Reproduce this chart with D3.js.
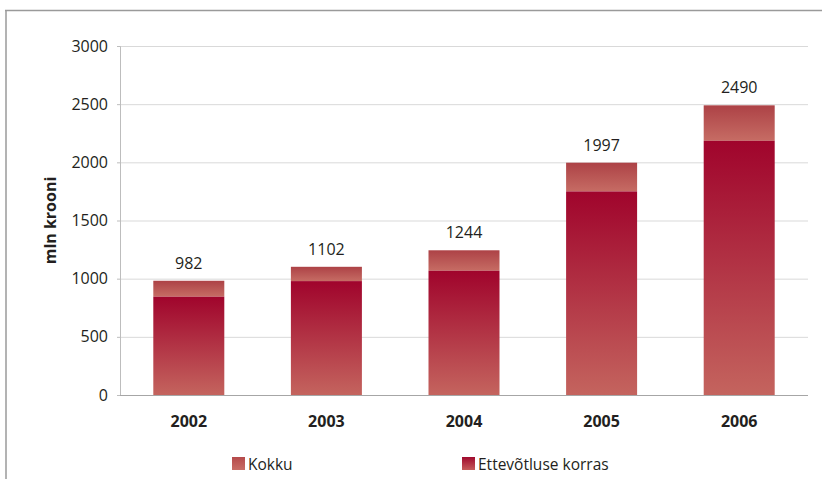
<!DOCTYPE html>
<html><head><meta charset="utf-8">
<script src="https://cdn.jsdelivr.net/npm/d3@7"></script>
<style>
html,body{margin:0;padding:0;background:#fff;}
svg{display:block;font-family:"Open Sans",sans-serif;}
</style></head>
<body>
<svg id="chart" width="822" height="479"></svg>
<script>
const years = ["2002","2003","2004","2005","2006"];
const kokku = [982, 1102, 1244, 1997, 2490];
const ettevotlus = [845, 979, 1068, 1750, 2185];
const yTicks = [0, 500, 1000, 1500, 2000, 2500, 3000];
const seriesNames = ["Kokku", "Ettevõtluse korras"];

const svg = d3.select("#chart");
const W = 822, H = 479;
const m = {left: 120, right: 14, top: 46, bottom: 84};

const defs = svg.append("defs");
function grad(id, c1, c2) {
  const g = defs.append("linearGradient").attr("id", id)
    .attr("x1", 0).attr("y1", 0).attr("x2", 0).attr("y2", 1);
  g.append("stop").attr("offset", "0%").attr("stop-color", c1);
  g.append("stop").attr("offset", "100%").attr("stop-color", c2);
}
grad("gEtt", "#a0042c", "#c4645e");
grad("gKok", "#ad4246", "#c66c64");
grad("gKokLeg", "#b54a4b", "#c96e66");
grad("gEttLeg", "#a00a2e", "#c65c5a");

// frame
svg.append("line").attr("x1", 5).attr("x2", W).attr("y1", 10.5).attr("y2", 10.5)
  .attr("stroke", "#9a9a9a").attr("stroke-width", 1.5);
svg.append("line").attr("x1", 6).attr("x2", 6).attr("y1", 10).attr("y2", H)
  .attr("stroke", "#9a9a9a").attr("stroke-width", 1.5);

const x = d3.scaleBand().domain(years).range([m.left, W - m.right]).paddingInner(0.484).paddingOuter(0.242);
const y = d3.scaleLinear().domain([0, 3000]).range([H - m.bottom, m.top]);

// gridlines
svg.append("g").selectAll("line").data(yTicks.filter(d => d > 0)).join("line")
  .attr("x1", m.left).attr("x2", W - m.right)
  .attr("y1", d => y(d) + 0.5).attr("y2", d => y(d) + 0.5)
  .attr("stroke", "#d9d9d9").attr("stroke-width", 1);

// y axis
const yAxis = svg.append("g").attr("transform", `translate(${m.left},0)`)
  .call(d3.axisLeft(y).tickValues(yTicks).tickFormat(d3.format("d")).tickSize(3).tickPadding(9));
yAxis.select(".domain").attr("stroke", "#bdbdbd");
yAxis.selectAll(".tick line").attr("stroke", "#bdbdbd");
yAxis.selectAll("text").attr("font-size", 16).attr("fill", "#231f20")
  .attr("font-family", "'Open Sans',sans-serif");

// bars
const bars = svg.append("g");
bars.selectAll("rect.kok").data(years).join("rect").attr("class", "kok")
  .attr("x", d => x(d)).attr("width", x.bandwidth())
  .attr("y", (d, i) => y(kokku[i]))
  .attr("height", (d, i) => y(ettevotlus[i]) - y(kokku[i]))
  .attr("fill", "url(#gKok)");
bars.selectAll("rect.ett").data(years).join("rect").attr("class", "ett")
  .attr("x", d => x(d)).attr("width", x.bandwidth())
  .attr("y", (d, i) => y(ettevotlus[i]))
  .attr("height", (d, i) => y(0) - y(ettevotlus[i]))
  .attr("fill", "url(#gEtt)");

// x axis line
svg.append("line").attr("x1", m.left).attr("x2", W - m.right)
  .attr("y1", y(0) + 0.5).attr("y2", y(0) + 0.5)
  .attr("stroke", "#a6a6a6").attr("stroke-width", 1.2);

// value labels
svg.append("g").selectAll("text").data(years).join("text")
  .attr("x", d => x(d) + x.bandwidth() / 2)
  .attr("y", (d, i) => y(kokku[i]) - 12)
  .attr("text-anchor", "middle").attr("font-size", 16).attr("fill", "#231f20")
  .text((d, i) => kokku[i]);

// category labels
svg.append("g").selectAll("text").data(years).join("text")
  .attr("x", d => x(d) + x.bandwidth() / 2)
  .attr("y", y(0) + 32)
  .attr("text-anchor", "middle").attr("font-size", 16).attr("font-weight", "bold")
  .attr("fill", "#231f20").text(d => d);

// y label
svg.append("text").attr("transform", `translate(56,${(y(0) + y(3000)) / 2}) rotate(-90)`)
  .attr("text-anchor", "middle").attr("font-size", 16).attr("font-weight", "bold")
  .attr("fill", "#231f20").text("mln krooni");

// legend
const leg = [{name: seriesNames[0], fill: "url(#gKokLeg)", x: 232},
             {name: seriesNames[1], fill: "url(#gEttLeg)", x: 462}];
const lg = svg.append("g").selectAll("g").data(leg).join("g")
  .attr("transform", d => `translate(${d.x},457)`);
lg.append("rect").attr("width", 13).attr("height", 13).attr("fill", d => d.fill);
lg.append("text").attr("x", 16).attr("y", 12.5).attr("font-size", 15.5).attr("fill", "#231f20")
  .text(d => d.name);
</script>
</body></html>
